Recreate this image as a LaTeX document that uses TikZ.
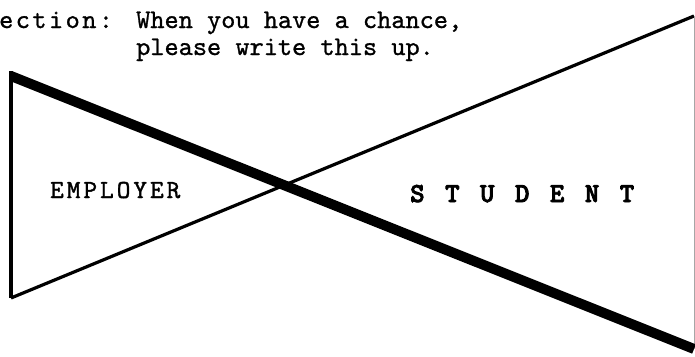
\documentclass[tikz,border=0pt]{standalone}
\usepackage{fontspec}
\newfontfamily\notefont[FakeBold=1]{lmmono10-regular.otf}
\newfontfamily\tagfont[FakeBold=1,LetterSpace=9]{lmmono10-regular.otf}
\newfontfamily\namefont[FakeBold=1.4,LetterSpace=11.5]{lmmono10-regular.otf}
\newfontfamily\heavyfont[FakeBold=3]{lmmonolt10-bold.otf}
\usetikzlibrary{positioning}

\tikzset{
  typed/.style={anchor=base west,inner sep=0pt,font=\notefont\fontsize{27}{27}\selectfont},
  edge/.style={line width=3.2pt}
}

\begin{document}
\begin{tikzpicture}[x=1pt,y=-1pt]
\useasboundingbox (0,0) rectangle (695,356);
\coordinate (top) at (11,71);
\coordinate (tl) at (11,76);
\coordinate (bl) at (11,298);
\coordinate (tr) at (694,16);
\coordinate (br) at (694,349);
\draw[edge] (top) -- (bl);
\draw[edge] (bl) -- (tr);
\draw[line width=0.6pt,black!35] (tr) -- (br);
\draw[line width=10pt] (tl) -- (br);
\node[typed,font=\tagfont\fontsize{27}{27}\selectfont] (tag) at (-1,28) {ection:};
\node[typed] (line1) at (136,28) {When you have a chance,};
\node[typed] (line2) at (136,55) {please write this up.};
\node[typed,font=\namefont\fontsize{26}{27}\selectfont] (emp) at (50,198) {EMPLOYER};
\node[typed,font=\heavyfont\fontsize{27.5}{27}\selectfont] (stu) at (410,202) {\spaceskip=20.5pt S T U D E N T};
\end{tikzpicture}
\end{document}
